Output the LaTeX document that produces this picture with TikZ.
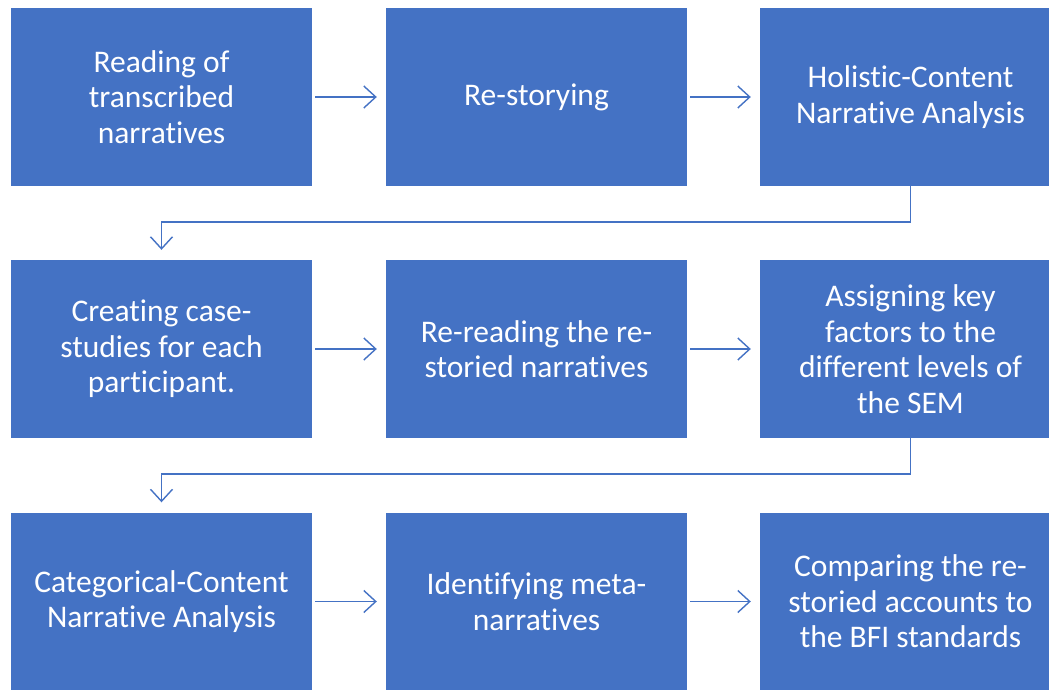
\documentclass[tikz,border=0pt]{standalone}
\usepackage{fontspec}
\setmainfont{Carlito}[Ligatures={NoCommon}]
\usetikzlibrary{arrows.meta}
\definecolor{boxblue}{HTML}{4472C4}
\tikzset{
  stepbox/.style={fill=boxblue, draw=none, minimum width=301pt, minimum height=178pt,
    inner sep=0pt, text=white, align=center, font=\fontsize{31.5}{35.5}\selectfont},
  flow/.style={draw=boxblue, line width=1.4pt,
    -{Straight Barb[length=12pt, width=22pt, line width=1.4pt]}},
}
\begin{document}
\begin{tikzpicture}[x=1pt, y=-1pt]
\useasboundingbox (0,0) rectangle (1049,690);
\clip (0,0) rectangle (1049,690);
% row 1
\node[stepbox] (a1) at (161.5,97) {Reading of\\transcribed\\narratives};
\node[stepbox] (a2) at (536.5,97) {Re-storying};
\node[stepbox] (a3) at (910.5,97) {Holistic-Content\\Narrative Analysis};
% row 2
\node[stepbox] (b1) at (161.5,349) {Creating case-\\studies for each\\participant.};
\node[stepbox] (b2) at (536.5,349) {Re-reading the re-\\storied narratives};
\node[stepbox] (b3) at (910.5,349) {Assigning key\\factors to the\\different levels of\\the SEM};
% row 3
\node[stepbox] (c1) at (161.5,601.5) {Categorical-Content\\Narrative Analysis};
\node[stepbox] (c2) at (536.5,601.5) {Identifying meta-\\narratives};
\node[stepbox] (c3) at (910.5,601.5) {Comparing the re-\\storied accounts to\\the BFI standards};
% horizontal connectors
\foreach \s/\t in {a1/a2, a2/a3, b1/b2, b2/b3, c1/c2, c2/c3}
  \draw[flow, shorten <=3pt, shorten >=9pt] (\s.east) -- (\t.west);
% elbow connectors between rows
\coordinate (k1) at (0,222);
\coordinate (k2) at (0,474);
\draw[flow, shorten >=10pt] (a3.south) -- (a3.south |- k1) -- (b1.north |- k1) -- (b1.north);
\draw[flow, shorten >=10pt] (b3.south) -- (b3.south |- k2) -- (c1.north |- k2) -- (c1.north);
\end{tikzpicture}
\end{document}
